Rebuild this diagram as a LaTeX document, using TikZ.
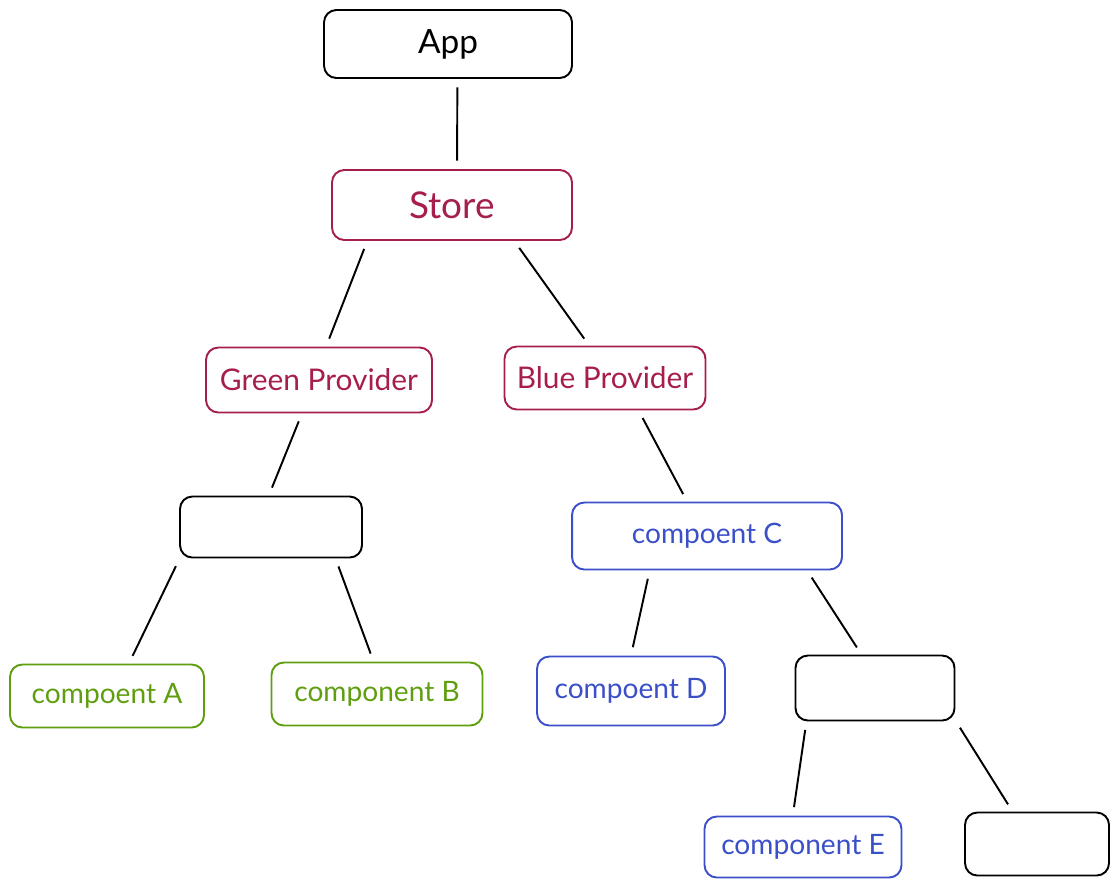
\documentclass[tikz,border=0pt]{standalone}
\usepackage{fontspec}
\setmainfont{Lato}
\definecolor{storered}{HTML}{A61E4D}
\definecolor{leafgreen}{HTML}{5F9E0F}
\definecolor{leafblue}{HTML}{3B4FC8}
\begin{document}
\begin{tikzpicture}[x=0.02cm, y=-0.02cm,
    box/.style={draw, rounded corners=7pt, line width=1.1pt, inner sep=0pt, align=center},
    redbox/.style={box, draw=storered, text=storered},
    greenbox/.style={box, draw=leafgreen, text=leafgreen, font=\fontsize{16}{18}\selectfont},
    bluebox/.style={box, draw=leafblue, text=leafblue, font=\fontsize{16}{18}\selectfont},
    link/.style={line width=1.1pt, shorten <=0.17cm, shorten >=0.17cm}]
  \useasboundingbox (0,0) rectangle (1118,887);

  \node[box, minimum width=4.96cm, minimum height=1.36cm, font=\fontsize{19}{22}\selectfont] (app) at (448,44) {App};
  \node[redbox, minimum width=4.8cm, minimum height=1.4cm, font=\fontsize{21}{24}\selectfont] (store) at (452,205) {Store};
  \node[redbox, minimum width=4.52cm, minimum height=1.3cm, font=\fontsize{17}{20}\selectfont] (green) at (319,380) {Green Provider};
  \node[redbox, minimum width=4.02cm, minimum height=1.26cm, font=\fontsize{17}{20}\selectfont] (blue) at (605,378) {Blue Provider};
  \node[box, minimum width=3.64cm, minimum height=1.22cm] (mid1) at (271,527) {};
  \node[bluebox, minimum width=5.4cm, minimum height=1.34cm] (compc) at (707,536) {compoent C};
  \node[greenbox, minimum width=3.88cm, minimum height=1.26cm] (compa) at (107,696) {compoent A};
  \node[greenbox, minimum width=4.22cm, minimum height=1.26cm] (compb) at (377,694) {component B};
  \node[bluebox, minimum width=3.76cm, minimum height=1.38cm] (compd) at (631,691) {compoent D};
  \node[box, minimum width=3.18cm, minimum height=1.3cm] (mid2) at (875,688) {};
  \node[bluebox, minimum width=3.94cm, minimum height=1.22cm] (compe) at (803,847) {component E};
  \node[box, minimum width=2.88cm, minimum height=1.26cm] (leaf) at (1037,844) {};

  % parent anchor / child anchor
  \foreach \a/\pa/\b/\pb in {app/285/store/82, store/203/green/78, store/330/blue/116,
      green/243/mid1/94, blue/316/compc/120, mid1/199/compa/56, mid1/334/compb/96,
      compc/211/compd/90, compc/341/mid2/112, mid2/206/compe/108, mid2/338/leaf/127}
    {\draw[link] (\a.\pa) -- (\b.\pb);}
\end{tikzpicture}
\end{document}
